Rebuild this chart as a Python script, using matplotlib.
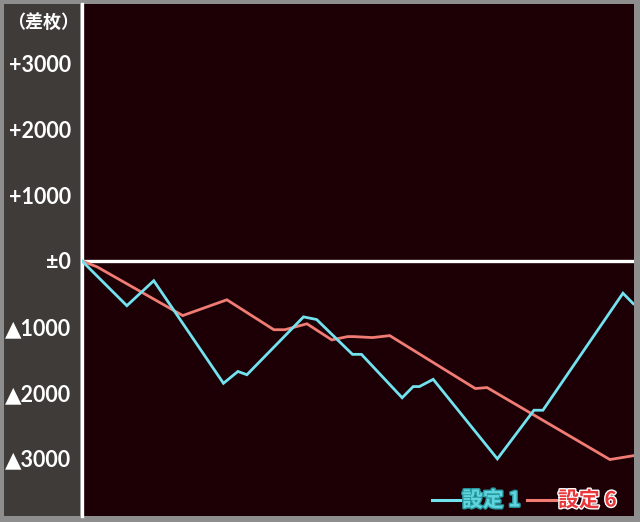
import matplotlib
matplotlib.use("Agg")
import matplotlib.pyplot as plt
import matplotlib.patheffects as pe
from matplotlib.patches import Rectangle
from matplotlib.lines import Line2D

plt.rcParams['font.family'] = ['Liberation Sans', 'Noto Sans CJK JP', 'DejaVu Sans']

# data (games, 差枚)
s1_x = [0, 650, 1040, 2050, 2260, 2390, 3210, 3400, 3920, 4050, 4640, 4800, 4890, 5090, 6020, 6550, 6680, 7840, 7990]
s1_y = [0, -680, -300, -1860, -1680, -1730, -850, -890, -1420, -1420, -2080, -1910, -1910, -1800, -3010, -2270, -2270, -490, -650]
s6_x = [0, 220, 1460, 2100, 2780, 2940, 3260, 3620, 3850, 3940, 4210, 4460, 5700, 5870, 7650, 8000]
s6_y = [0, -90, -830, -590, -1045, -1045, -955, -1200, -1150, -1150, -1165, -1135, -1940, -1925, -3020, -2960]
yticks = [3000, 2000, 1000, 0, -1000, -2000, -3000]
ytick_labels = ['+3000', '+2000', '+1000', '±0', '▲1000', '▲2000', '▲3000']
legend_labels = ['設定 1', '設定 6']
c1 = '#72e2ee'
c6 = '#f07c74'

W, H = 640, 522
fig = plt.figure(figsize=(W/100, H/100), dpi=100, facecolor='#8e8e8e')
# left gray panel
fig.patches.append(Rectangle((4/W, 6/H), 76/W, 512/H, transform=fig.transFigure,
                             facecolor='#3e3b39', edgecolor='none', zorder=0))

ax = fig.add_axes([82/W, 6/H, (634-82)/W, (518-6)/H])
ax.set_zorder(2)
ax.set_facecolor('#1c0006')
ax.set_xlim(0, 8000)
ax.set_ylim(-(518-262)/66*1000, (262-4)/66*1000)

ax.axhline(0, color='white', lw=2.4, zorder=2)
ax.plot(s6_x, s6_y, color=c6, lw=2.0, zorder=3, solid_joinstyle='miter')
ax.plot(s1_x, s1_y, color=c1, lw=2.0, zorder=4, solid_joinstyle='miter')

for s in ['top', 'right', 'bottom']:
    ax.spines[s].set_visible(False)
ax.spines['left'].set_color('white')
ax.spines['left'].set_linewidth(2.4)
ax.set_xticks([])
ax.set_yticks(yticks)
ax.set_yticklabels(ytick_labels)
ax.tick_params(axis='y', length=0, pad=8, labelcolor='white', labelsize=15.5)
for t in ax.get_yticklabels():
    t.set_fontweight('bold')
    t.set_family(['Lato', 'DejaVu Sans'])

t0 = fig.text(43/W, 1 - 22/H, '（差枚）', color='white', fontsize=13, fontweight='bold',
              ha='center', va='center', family=['Noto Sans CJK JP', 'DejaVu Sans'])
t0.set_zorder(5)

# legend
ly = 1 - 500/H
for (x0, x1, tx, lab, lc, tc, ec) in [(432, 460, 462, legend_labels[0], c1, '#5fd6de', '#2a9aa2'),
                                      (527, 556, 558, legend_labels[1], c6, '#e8383c', '#ffffff')]:
    fig.add_artist(Line2D([x0/W, x1/W], [ly, ly], color=lc, lw=2.2, transform=fig.transFigure, zorder=5))
    t = fig.text(tx/W, ly, lab, color=tc, fontsize=15, fontweight='bold', ha='left', va='center',
                 family=['Noto Sans CJK JP', 'DejaVu Sans'], zorder=5)
    t.set_path_effects([pe.Stroke(linewidth=2, foreground=ec), pe.Normal()])

fig.savefig('out.png', dpi=100, facecolor=fig.get_facecolor())
